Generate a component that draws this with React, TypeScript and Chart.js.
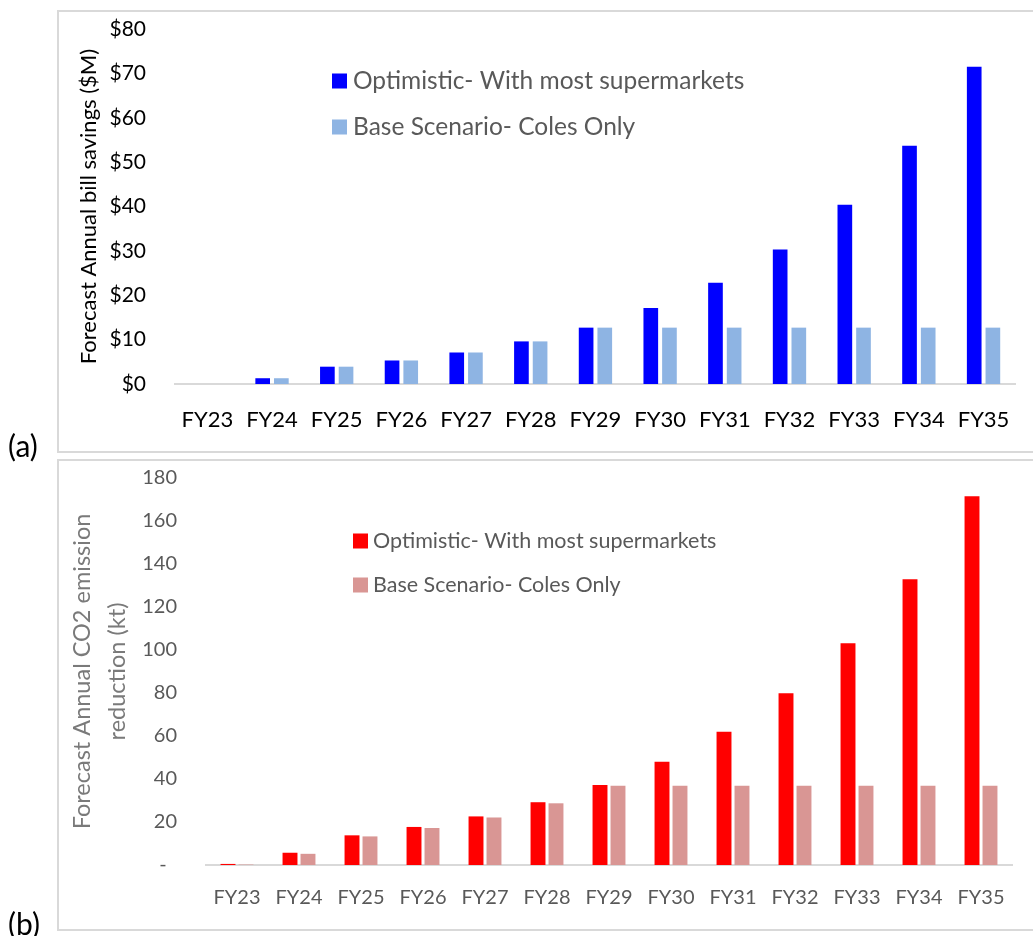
import React, { useEffect, useRef } from "react";
import { Chart, registerables } from "chart.js";

Chart.register(...registerables);

const categories = ["FY23", "FY24", "FY25", "FY26", "FY27", "FY28", "FY29", "FY30", "FY31", "FY32", "FY33", "FY34", "FY35"];
const seriesLabels = ["Optimistic- With most supermarkets", "Base Scenario- Coles Only"];

const savingsOptimistic = [0, 1.3, 3.9, 5.3, 7.1, 9.6, 12.7, 17.1, 22.8, 30.3, 40.4, 53.7, 71.5];
const savingsBase = [0, 1.3, 3.9, 5.3, 7.1, 9.6, 12.7, 12.7, 12.7, 12.7, 12.7, 12.7, 12.7];
const savingsTicks = [0, 10, 20, 30, 40, 50, 60, 70, 80];

const co2Optimistic = [0.5, 5.7, 13.8, 17.7, 22.6, 29.2, 37.2, 48.0, 62.0, 79.9, 103.1, 132.9, 171.5];
const co2Base = [0.2, 5.2, 13.3, 17.2, 22.1, 28.7, 36.9, 36.9, 36.9, 36.9, 36.9, 36.9, 36.9];
const co2Ticks = [0, 20, 40, 60, 80, 100, 120, 140, 160, 180];

const FONT = "Lato";

const insideLegend = {
  id: "insideLegend",
  afterDraw(chart: any, _args: any, opts: any) {
    const ctx = chart.ctx;
    ctx.save();
    ctx.font = `${opts.fontSize}px ${opts.fontFamily}`;
    ctx.textBaseline = "middle";
    ctx.textAlign = "left";
    chart.data.datasets.forEach((ds: any, i: number) => {
      const cy = opts.y + i * opts.rowGap;
      ctx.fillStyle = ds.backgroundColor;
      ctx.fillRect(opts.x, cy - opts.box / 2, opts.box, opts.box);
      ctx.fillStyle = opts.color;
      ctx.fillText(ds.label, opts.x + opts.box + opts.gap, cy);
    });
    ctx.restore();
  },
};

function fixY(width: number) {
  return (s: any) => {
    s.width = width;
    s.paddingTop = 0;
    s.paddingBottom = 0;
  };
}

function savingsConfig(): any {
  return {
    type: "bar",
    data: {
      labels: categories,
      datasets: [
        { label: seriesLabels[0], data: savingsOptimistic, backgroundColor: "#0000FF", categoryPercentage: 0.577, barPercentage: 0.786 },
        { label: seriesLabels[1], data: savingsBase, backgroundColor: "#8EB4E3", categoryPercentage: 0.577, barPercentage: 0.786 },
      ],
    },
    options: {
      responsive: false,
      animation: false,
      layout: { padding: { left: 0, top: 19, right: 16, bottom: 0 } },
      plugins: {
        legend: { display: false },
        tooltip: { enabled: false },
        insideLegend: { x: 332, y: 71, rowGap: 46, box: 15, gap: 6, fontSize: 24.5, fontFamily: FONT, color: "#595959" },
      },
      scales: {
        x: {
          grid: { display: false, drawTicks: false },
          border: { display: true, color: "#d9d9d9", width: 2 },
          ticks: { color: "#000", font: { family: FONT, size: 22 }, padding: 23, autoSkip: false, maxRotation: 0 },
          afterFit: (s: any) => { s.height = 69; },
        },
        y: {
          min: 0,
          max: 80,
          grid: { display: false, drawTicks: false },
          border: { display: false },
          afterBuildTicks: (s: any) => { s.ticks = savingsTicks.map((v) => ({ value: v })); },
          ticks: { color: "#000", font: { family: FONT, size: 21 }, padding: 29, callback: (v: any) => "$" + v },
          afterFit: fixY(175),
          title: {
            display: true,
            text: "Forecast Annual bill savings ($M)",
            color: "#000",
            font: { family: FONT, size: 22, lineHeight: 1.2 },
            padding: { top: 76, bottom: 0 },
          },
        },
      },
    },
    plugins: [insideLegend],
  };
}

function co2Config(): any {
  return {
    type: "bar",
    data: {
      labels: categories,
      datasets: [
        { label: seriesLabels[0], data: co2Optimistic, backgroundColor: "#FF0000", categoryPercentage: 0.58, barPercentage: 0.83 },
        { label: seriesLabels[1], data: co2Base, backgroundColor: "#D99694", categoryPercentage: 0.58, barPercentage: 0.83 },
      ],
    },
    options: {
      responsive: false,
      animation: false,
      layout: { padding: { left: 0, top: 19, right: 21, bottom: 0 } },
      plugins: {
        legend: { display: false },
        tooltip: { enabled: false },
        insideLegend: { x: 353, y: 82, rowGap: 44, box: 15, gap: 5, fontSize: 21.5, fontFamily: FONT, color: "#595959" },
      },
      scales: {
        x: {
          grid: { display: false, drawTicks: false },
          border: { display: true, color: "#d9d9d9", width: 2 },
          ticks: { color: "#595959", font: { family: FONT, size: 20 }, padding: 21, autoSkip: false, maxRotation: 0 },
          afterFit: (s: any) => { s.height = 66; },
        },
        y: {
          min: 0,
          max: 180,
          grid: { display: false, drawTicks: false },
          border: { display: false },
          afterBuildTicks: (s: any) => { s.ticks = co2Ticks.map((v) => ({ value: v })); },
          ticks: { color: "#595959", font: { family: FONT, size: 20 }, padding: 29, callback: (v: any) => (v === 0 ? "-  " : String(v)) },
          afterFit: fixY(206),
          title: {
            display: true,
            text: ["Forecast Annual CO2 emission", "reduction (kt)"],
            color: "#7a7a7a",
            font: { family: FONT, size: 23.5, lineHeight: 1.49 },
            padding: { top: 64.5, bottom: 0 },
          },
        },
      },
    },
    plugins: [insideLegend],
  };
}

function ChartCanvas(props: { make: () => any; top: number; height: number }) {
  const ref = useRef<HTMLCanvasElement>(null);
  useEffect(() => {
    if (!ref.current) return;
    const chart = new Chart(ref.current, props.make());
    return () => chart.destroy();
  }, []);
  return (
    <canvas
      ref={ref}
      width={1033}
      height={props.height}
      style={{ position: "absolute", left: 0, top: props.top, width: 1033, height: props.height }}
    />
  );
}

const boxStyle = (top: number, height: number): React.CSSProperties => ({
  position: "absolute",
  left: 57,
  top,
  width: 1100,
  height,
  border: "2px solid #d9d9d9",
  boxSizing: "border-box",
});

const tagStyle = (top: number): React.CSSProperties => ({
  position: "absolute",
  left: 8,
  top,
  fontFamily: FONT,
  fontSize: 30,
  lineHeight: "30px",
  color: "#000",
});

export default function App() {
  return (
    <div style={{ position: "absolute", left: 0, top: 0, width: 1033, height: 936, overflow: "hidden", background: "#fff" }}>
      <div style={boxStyle(10, 443)} />
      <div style={boxStyle(459, 472)} />
      <ChartCanvas make={savingsConfig} top={10} height={443} />
      <ChartCanvas make={co2Config} top={459} height={472} />
      <div style={tagStyle(430)}>(a)</div>
      <div style={tagStyle(908)}>(b)</div>
    </div>
  );
}
